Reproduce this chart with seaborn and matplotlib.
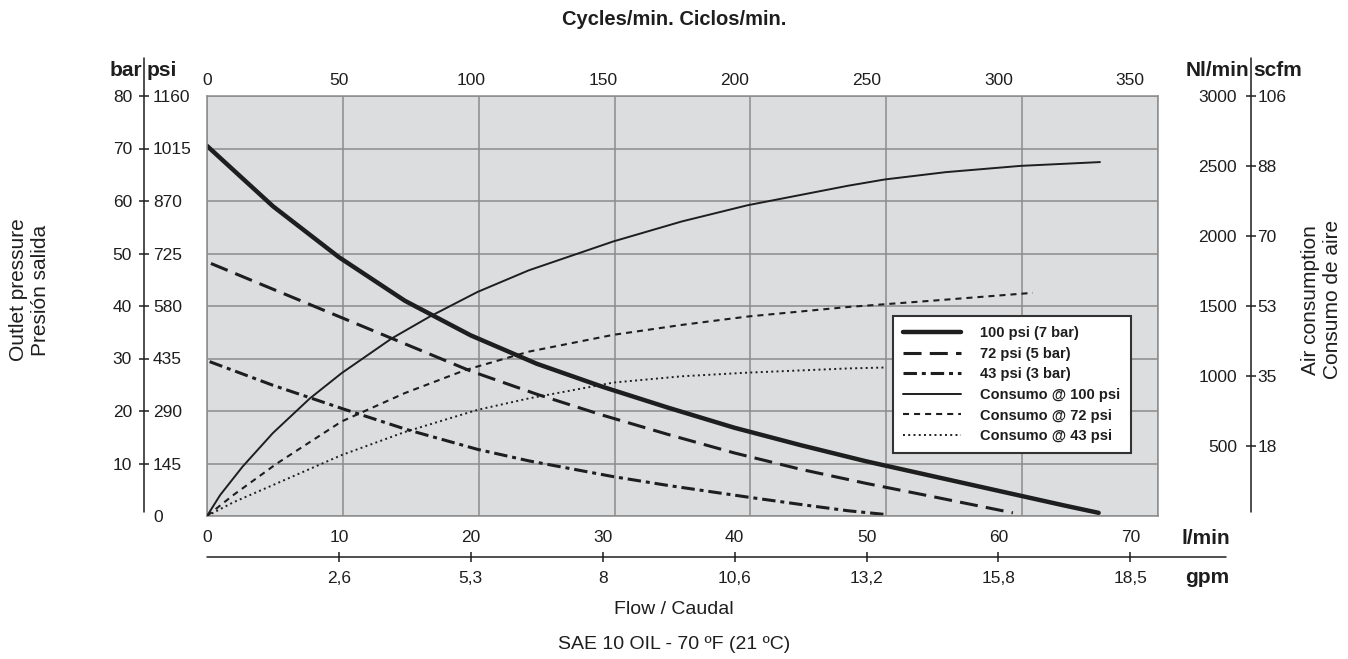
import numpy as np
import seaborn as sns
import matplotlib.pyplot as plt

# caudal (l/min) y presion (bar)
flow_100 = [0, 5, 10, 15, 20, 25, 30, 35, 40, 45, 50, 55, 60, 65, 67.6]
bar_100 = [70.5, 59.0, 49.3, 41.0, 34.4, 29.0, 24.6, 20.6, 16.8, 13.5, 10.4, 7.6, 4.8, 2.0, 0.6]

flow_72 = [0.3, 5, 10, 15, 20, 25, 30, 35, 40, 45, 50, 55, 61.1]
bar_72 = [48.1, 43.2, 38.0, 32.8, 27.6, 23.2, 19.2, 15.5, 12.0, 8.9, 6.2, 3.7, 0.6]

flow_43 = [0.2, 5, 10.2, 15.1, 20.5, 24.4, 30.8, 35, 41, 45, 48.6, 51.4]
bar_43 = [29.4, 24.9, 20.5, 16.5, 12.7, 10.5, 7.5, 5.8, 3.6, 2.2, 1.0, 0.3]

# consumo de aire (Nl/min)
flow_air100 = [0, 1, 2.7, 5, 7.8, 10.2, 14, 16.9, 20.5, 24.4, 30.8, 36, 41, 48.6, 51.4, 56, 61.7, 67.7]
air_100 = [0, 150, 353, 593, 840, 1020, 1268, 1425, 1600, 1755, 1961, 2104, 2220, 2359, 2404, 2456, 2501, 2528]

flow_air72 = [0, 2, 5.3, 10.2, 15, 19.6, 24.4, 30.8, 36, 41, 48.6, 55, 62.6]
air_72 = [0, 150, 375, 675, 878, 1043, 1174, 1294, 1365, 1425, 1493, 1538, 1594]

flow_air43 = [0, 2, 5, 10.2, 15, 20.5, 24.4, 30.8, 36, 41, 48.6, 51.5]
air_43 = [0, 98, 221, 435, 600, 758, 840, 953, 998, 1024, 1054, 1061]

# ejes
bar_ticks = [10, 20, 30, 40, 50, 60, 70, 80]
psi_ticks = [0, 10, 20, 30, 40, 50, 60, 70, 80]
psi_labels = ['0', '145', '290', '435', '580', '725', '870', '1015', '1160']
nl_ticks = [500, 1000, 1500, 2000, 2500, 3000]
scfm_labels = ['18', '35', '53', '70', '88', '106']
cycle_ticks = [0, 50, 100, 150, 200, 250, 300, 350]
lmin_ticks = [0, 10, 20, 30, 40, 50, 60, 70]
gpm_ticks = [10, 20, 30, 40, 50, 60, 70]
gpm_labels = ['2,6', '5,3', '8', '10,6', '13,2', '15,8', '18,5']

ink = '#1e1e1e'
grid_c = '#8c8c8c'

sns.set_theme(style='white')
plt.rcParams['font.family'] = ['Liberation Sans', 'DejaVu Sans']

fig = plt.figure(figsize=(13.48, 6.59), dpi=100)
ax = fig.add_axes([207 / 1348, 1 - 516 / 659, 951 / 1348, 420 / 659])
ax.set_facecolor('#dcdddf')
xmax = 72.1
ax.set_xlim(0, xmax)
ax.set_ylim(0, 80)
ax.set_xticks(np.linspace(0, xmax, 8))
ax.set_yticks(np.arange(0, 81, 10))
ax.tick_params(length=0, labelleft=False, labelbottom=False)
ax.grid(True, color=grid_c, lw=1.1)
ax.set_axisbelow(True)
for s in ax.spines.values():
    s.set_color(grid_c)
    s.set_linewidth(1.1)

ax_air = ax.twinx()
ax_air.set_ylim(0, 3000)
ax_air.tick_params(length=0, labelright=False)
for s in ax_air.spines.values():
    s.set_visible(False)

# curvas de presion
sns.lineplot(x=flow_100, y=bar_100, ax=ax, color=ink, lw=3.2, label='100 psi (7 bar)', legend=False)
sns.lineplot(x=flow_72, y=bar_72, ax=ax, color=ink, lw=2.2, linestyle=(0, (5.9, 2.7)),
             label='72 psi (5 bar)', legend=False)
sns.lineplot(x=flow_43, y=bar_43, ax=ax, color=ink, lw=2.2, linestyle=(0, (4.4, 1.6, 1.3, 1.6)),
             label='43 psi (3 bar)', legend=False)

# curvas de consumo
sns.lineplot(x=flow_air100, y=air_100, ax=ax_air, color=ink, lw=1.4, label='Consumo @ 100 psi', legend=False)
sns.lineplot(x=flow_air72, y=air_72, ax=ax_air, color=ink, lw=1.5, linestyle=(0, (2.9, 2.4)),
             label='Consumo @ 72 psi', legend=False)
sns.lineplot(x=flow_air43, y=air_43, ax=ax_air, color=ink, lw=1.4, linestyle=(0, (1, 1.7)),
             label='Consumo @ 43 psi', legend=False)
for a in (ax, ax_air):
    a.set_xlabel('')
    a.set_ylabel('')

h1, l1 = ax.get_legend_handles_labels()
h2, l2 = ax_air.get_legend_handles_labels()
leg = ax_air.legend(h1 + h2, l1 + l2, loc='upper left', bbox_to_anchor=(0.721, 0.476),
                    borderaxespad=0, frameon=True, fancybox=False, edgecolor='#333333',
                    facecolor='white', framealpha=1, prop={'weight': 'bold', 'size': 10.5},
                    handlelength=4.0, handletextpad=1.3, labelspacing=0.45, borderpad=0.7)
leg.get_frame().set_linewidth(1.5)
for t in leg.get_texts():
    t.set_color(ink)

tick_fs = 12.5
xl = -0.0662   # eje bar/psi
xr = 1.0978    # eje Nl/min / scfm
yb = -0.0976   # eje l/min / gpm

sec_bar = ax.secondary_yaxis(xl)
sec_bar.set_ticks(bar_ticks)
sec_bar.tick_params(direction='inout', length=7, width=1.1, pad=5.1, labelsize=tick_fs,
                    colors=ink)
sec_psi = ax.secondary_yaxis(xl)
sec_psi.set_alignment('right')
sec_psi.set_ticks(psi_ticks, psi_labels)
sec_psi.tick_params(length=0, pad=6.5, labelsize=tick_fs, colors=ink)

sec_nl = ax_air.secondary_yaxis(xr)
sec_nl.set_alignment('left')
sec_nl.set_ticks(nl_ticks)
sec_nl.tick_params(direction='inout', length=7, width=1.1, pad=6.5, labelsize=tick_fs,
                   colors=ink)
sec_scfm = ax_air.secondary_yaxis(xr)
sec_scfm.set_ticks(nl_ticks, scfm_labels)
sec_scfm.tick_params(length=0, pad=4.5, labelsize=tick_fs, colors=ink)

sec_top = ax.secondary_xaxis('top', functions=(lambda q: q * 5, lambda c: c / 5))
sec_top.set_ticks(cycle_ticks)
sec_top.tick_params(length=0, pad=6, labelsize=tick_fs, colors=ink)

sec_lmin = ax.secondary_xaxis(yb)
sec_lmin.set_alignment('top')
sec_lmin.set_ticks(lmin_ticks)
sec_lmin.tick_params(length=0, pad=8.6, labelsize=tick_fs, colors=ink)
sec_gpm = ax.secondary_xaxis(yb)
sec_gpm.set_ticks(gpm_ticks, gpm_labels)
sec_gpm.tick_params(direction='inout', length=7, width=1.1, pad=6.5, labelsize=tick_fs,
                    colors=ink)

for sec in (sec_bar, sec_psi, sec_nl, sec_scfm, sec_top, sec_lmin, sec_gpm):
    for s in sec.spines.values():
        s.set_visible(False)

# lineas de los ejes exteriores
ax.plot([xl, xl], [0.0095, 1.0905], transform=ax.transAxes, clip_on=False, color=ink, lw=1.1)
ax.plot([xr, xr], [0.0095, 1.0905], transform=ax.transAxes, clip_on=False, color=ink, lw=1.1)
ax.plot([0, 1.0715], [yb, yb], transform=ax.transAxes, clip_on=False, color=ink, lw=1.1)

head = dict(xycoords='axes fraction', textcoords='offset points', va='baseline',
            fontsize=15, fontweight='bold', color=ink)
ax.annotate('bar', xy=(xl, 1.0476), xytext=(-1.5, 0), ha='right', **head)
ax.annotate('psi', xy=(xl, 1.0476), xytext=(1.5, 0), ha='left', **head)
ax.annotate('Nl/min', xy=(xr, 1.0476), xytext=(-1.5, 0), ha='right', **head)
ax.annotate('scfm', xy=(xr, 1.0476), xytext=(1.5, 0), ha='left', **head)
ax.text(1.0505, -0.0524, 'l/min', transform=ax.transAxes, ha='center', va='center',
        fontsize=15, fontweight='bold', color=ink)
ax.text(1.0515, -0.1476, 'gpm', transform=ax.transAxes, ha='center', va='center',
        fontsize=15, fontweight='bold', color=ink)

fig.text(0.5, 0.9697, 'Cycles/min. Ciclos/min.', ha='center', va='center',
         fontsize=14.5, fontweight='bold', color=ink)
fig.text(0.5, 0.0744, 'Flow / Caudal', ha='center', va='center', fontsize=14, color=ink)
fig.text(0.5, 0.0213, 'SAE 10 OIL - 70 ºF (21 ºC)', ha='center', va='center', fontsize=14, color=ink)
fig.text(0.0219, 0.56, 'Outlet pressure\nPresión salida', rotation=90, ha='center', va='center',
         multialignment='center', fontsize=15, linespacing=1.2, color=ink)
fig.text(0.980, 0.545, 'Air consumption\nConsumo de aire', rotation=90, ha='center', va='center',
         multialignment='center', fontsize=15, linespacing=1.2, color=ink)

fig.savefig('out.png', dpi=100, facecolor='white')
